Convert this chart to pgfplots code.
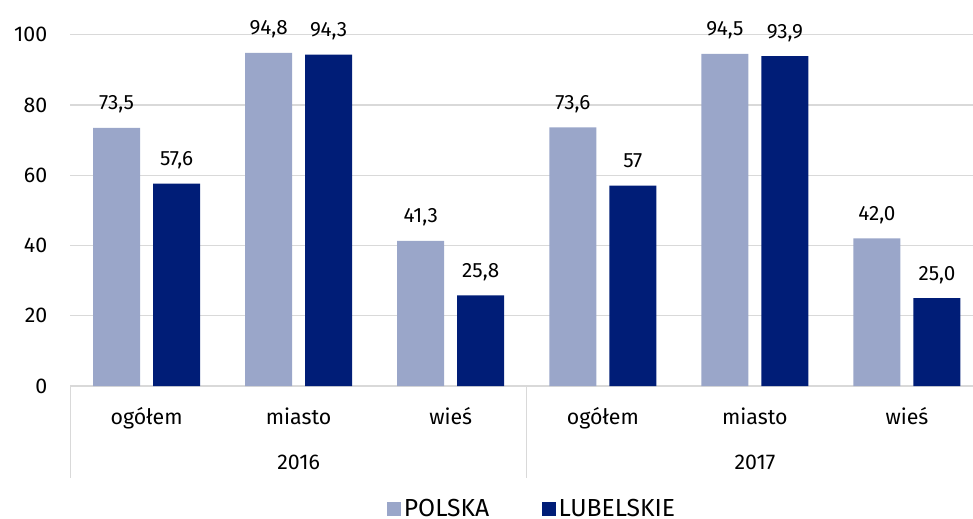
\documentclass[border=0pt]{standalone}
\usepackage{fontspec}
\setmainfont{Fira Sans}
\usepackage{pgfplots}
\usepackage{pgfplotstable}
\pgfplotsset{compat=1.18}

\definecolor{polska}{HTML}{9AA6C9}
\definecolor{lubel}{HTML}{001D77}
\definecolor{gridc}{HTML}{D9D9D9}

% x: 0..5 = ogolem, miasto, wies (2016), ogolem, miasto, wies (2017)
\pgfplotstableread{
x y label
0 73.5 73,5
1 94.8 94,8
2 41.3 41,3
3 73.6 73,6
4 94.5 94,5
5 42.0 42,0
}\polska
\pgfplotstableread{
x y label
0 57.6 57,6
1 94.3 94,3
2 25.8 25,8
3 57.0 57
4 93.9 93,9
5 25.0 25,0
}\lubel

\begin{document}
\begin{tikzpicture}
\begin{axis}[
    at={(52.875pt,99pt)}, anchor=south west,
    scale only axis,
    width=684.375pt, height=263.5pt,
    xmin=-0.5, xmax=5.5,
    ymin=0, ymax=100,
    enlargelimits=false,
    clip=false,
    axis line style={draw=none},
    major tick style={draw=none},
    ytick={0,20,...,100},
    ymajorgrids,
    grid style={gridc, line width=0.9pt},
    xtick={0,...,5},
    xticklabels={ogółem,miasto,wieś,ogółem,miasto,wieś},
    xticklabel style={anchor=base, inner sep=0pt, yshift=-28.9pt},
    yticklabel style={anchor=east, inner sep=0pt, xshift=-17.25pt},
    /pgf/number format/assume math mode=true,
    tick label style={font=\fontsize{16}{19}\selectfont},
    legend columns=2,
    legend style={at={(0.5063,-0.350)}, anchor=center, draw=none, fill=none,
        font=\fontsize{18.5}{21}\selectfont,
        /tikz/every even column/.append style={column sep=37.5pt}},
]
\addplot[ybar, bar width=35.25pt, bar shift=-22.5pt, fill=polska, draw=none,
    legend image code/.code={\fill[polska] (0pt,-5.25pt) rectangle (10.5pt,5.25pt);},
    point meta=explicit symbolic, nodes near coords,
    nodes near coords style={anchor=base, inner sep=0pt, yshift=13.5pt, xshift=-22.5pt,
        font=\fontsize{15.5}{18}\selectfont, text=black}]
    table[x=x, y=y, meta=label] {\polska};
\addlegendentry{POLSKA}
\addplot[ybar, bar width=35.25pt, bar shift=22.5pt, fill=lubel, draw=none,
    legend image code/.code={\fill[lubel] (0pt,-5.25pt) rectangle (10.5pt,5.25pt);},
    point meta=explicit symbolic, nodes near coords,
    nodes near coords style={anchor=base, inner sep=0pt, yshift=13.5pt, xshift=22.5pt,
        font=\fontsize{15.5}{18}\selectfont, text=black}]
    table[x=x, y=y, meta=label] {\lubel};
\addlegendentry{LUBELSKIE}
% group separators and year labels
\draw[gridc, line width=0.9pt] (axis cs:-0.5,0) -- (axis cs:-0.5,-26.2);
\draw[gridc, line width=0.9pt] (axis cs:2.5,0) -- (axis cs:2.5,-26.2);
\draw[gridc, line width=0.9pt] (axis cs:5.5,0) -- (axis cs:5.5,-26.2);
\node[anchor=base, inner sep=0pt, font=\fontsize{16}{19}\selectfont] at (axis cs:1,-23.9) {2016};
\node[anchor=base, inner sep=0pt, font=\fontsize{16}{19}\selectfont] at (axis cs:4,-23.9) {2017};
\end{axis}
\pgfresetboundingbox
\path[use as bounding box] (0pt,0pt) rectangle (729.75pt,388.5pt);
\end{tikzpicture}
\end{document}
